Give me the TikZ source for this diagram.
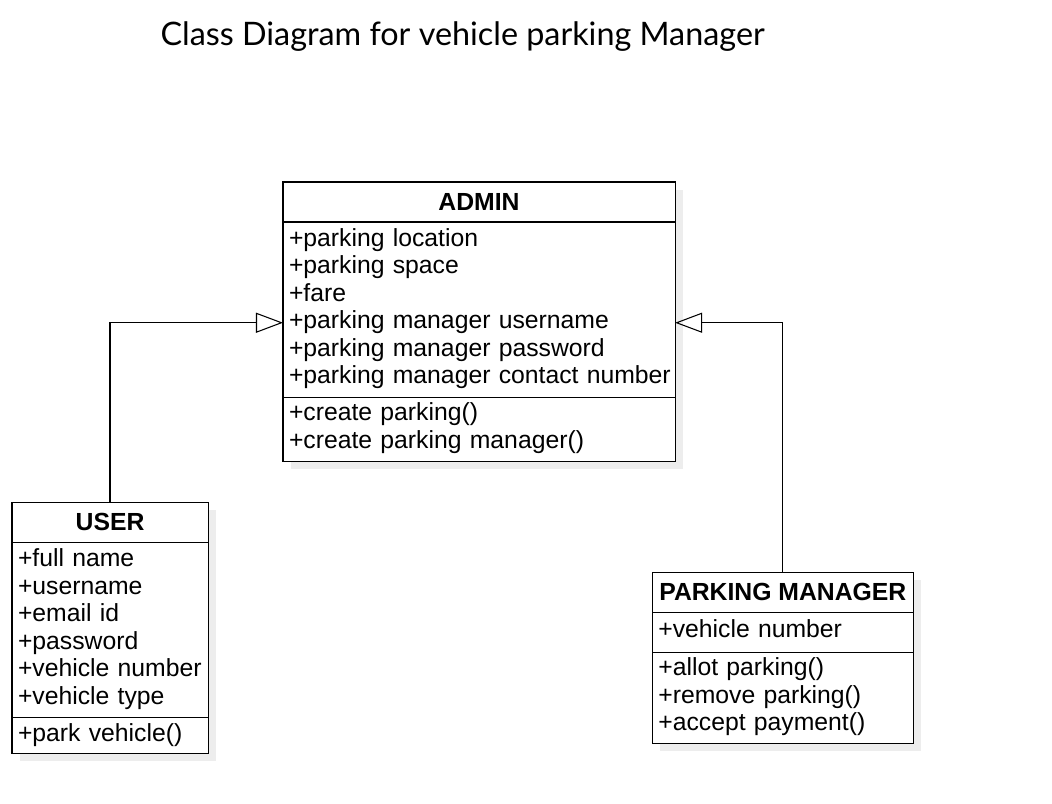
\documentclass[tikz,border=0pt]{standalone}
\usepackage{fontspec}
\setmainfont{Liberation Sans}
\newfontfamily\titlefont{Lato}
\usepackage{tikz}
\usetikzlibrary{arrows.meta,positioning,backgrounds}

\newcommand{\cls}{\fontsize{17.6}{19.56}\selectfont}

\begin{document}
\begin{tikzpicture}[
    x=0.025cm, y=-0.025cm,
    line width=0.75pt,
    boxshade/.style={fill=black!7},
    hdr/.style={draw, fill=white, anchor=north west, inner sep=0, outer sep=0, minimum height=1cm, font=\cls\bfseries},
    comp/.style={draw, fill=white, inner xsep=0.15cm, inner ysep=0, outer sep=0, align=left, font=\cls,
        execute at begin node=\strut, execute at end node=\strut},
    inherit/.style={draw, -{Triangle[open, length=0.675cm, width=0.5cm]}},
]
\useasboundingbox (0,0) rectangle (1052,803);

% Title
\node[anchor=base west, inner sep=0, font=\titlefont\fontsize{23}{28}\selectfont] (title) at (160,45) {Class Diagram for vehicle parking Manager};

% Admin
\node[hdr, minimum width=9.8cm] (admin) at (283,182) {ADMIN};
\node[comp, below=0pt of admin, text width=9.5cm, minimum height=4.375cm] (admin attr) {+parking location\\+parking space\\+fare\\+parking manager username\\+parking manager password\\\mbox{+parking manager contact number}};
\node[comp, below=0pt of admin attr, text width=9.5cm, minimum height=1.6cm] (admin meth) {+create parking()\\+create parking manager()};

% User
\node[hdr, minimum width=4.9cm] (user) at (12,502.3) {USER};
\node[comp, below=0pt of user, text width=4.6cm, minimum height=4.39cm] (user attr) {+full name\\+username\\+email id\\+password\\\mbox{+vehicle number}\\+vehicle type};
\node[comp, below=0pt of user attr, text width=4.6cm, minimum height=0.88cm] (user meth) {+park vehicle()};

% Parking manager
\node[hdr, minimum width=6.525cm] (pm) at (652.3,572.3) {PARKING MANAGER};
\node[comp, below=0pt of pm, text width=6.225cm, minimum height=1cm] (pm attr) {+vehicle number};
\node[comp, below=0pt of pm attr, text width=6.225cm, minimum height=2.275cm] (pm meth) {+allot parking()\\+remove parking()\\+accept payment()};

% Shadows
\begin{scope}[on background layer]
\fill[boxshade] ([shift={(0.2cm,-0.2cm)}]admin.north west) rectangle ([shift={(0.2cm,-0.2cm)}]admin meth.south east);
\fill[boxshade] ([shift={(0.2cm,-0.2cm)}]user.north west) rectangle ([shift={(0.2cm,-0.2cm)}]user meth.south east);
\fill[boxshade] ([shift={(0.2cm,-0.2cm)}]pm.north west) rectangle ([shift={(0.2cm,-0.2cm)}]pm meth.south east);
\end{scope}

% Generalisations
\draw[inherit] (user.north) |- ([yshift=-0.33cm]admin attr.west);
\draw[inherit] (pm.north) |- ([yshift=-0.33cm]admin attr.east);

\end{tikzpicture}
\end{document}
